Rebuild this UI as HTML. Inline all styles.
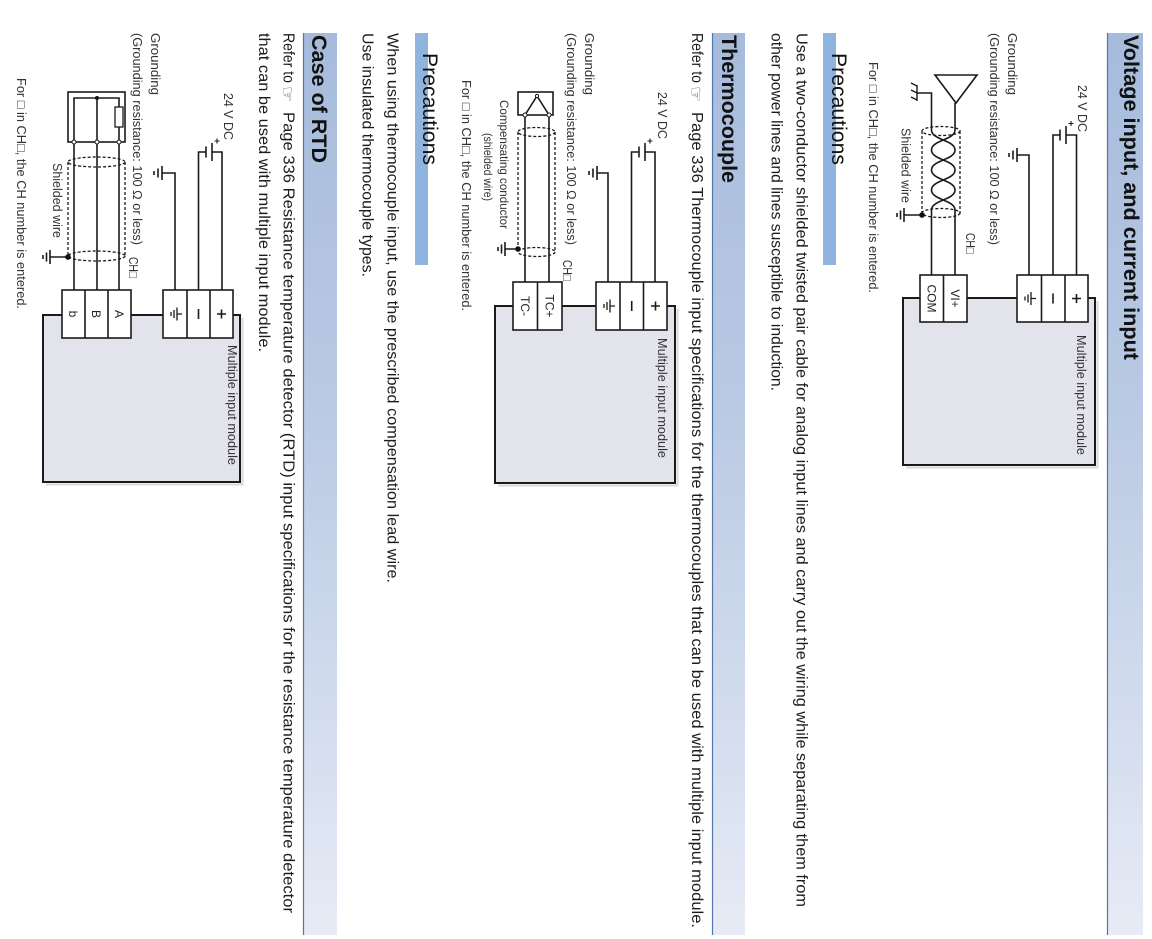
<!DOCTYPE html>
<html><head><meta charset="utf-8">
<style>
html,body{margin:0;padding:0;background:#fff;}
svg{display:block;}
text{font-family:"Liberation Sans","DejaVu Sans",sans-serif;}
.h{font-weight:bold;font-size:21.5px;fill:#111;}
.p{font-size:21px;fill:#111;}
.b{font-size:16px;fill:#1c1c1c;}
.d{font-size:12.5px;fill:#333;}
.t{font-size:12px;fill:#222;}
</style></head><body>
<svg width="1152" height="939" viewBox="0 0 1152 939" xmlns="http://www.w3.org/2000/svg">
<defs>
<linearGradient id="hb" x1="0" y1="0" x2="0" y2="1">
<stop offset="0" stop-color="#a6bbdc"/>
<stop offset="0.4" stop-color="#b9c9e3"/>
<stop offset="0.75" stop-color="#d2dcee"/>
<stop offset="1" stop-color="#e7ebf5"/>
</linearGradient>
</defs>
<rect width="1152" height="939" fill="#fff"/>

<!-- Header bars -->
<rect x="1107" y="33" width="36" height="902" fill="url(#hb)"/>
<line x1="1107.5" y1="33" x2="1107.5" y2="935" stroke="#5275ad" stroke-width="1.2"/>
<rect x="712" y="33" width="33" height="902" fill="url(#hb)"/>
<line x1="712.5" y1="33" x2="712.5" y2="935" stroke="#5275ad" stroke-width="1.2"/>
<rect x="303" y="33" width="34" height="902" fill="url(#hb)"/>
<line x1="303.5" y1="33" x2="303.5" y2="935" stroke="#5275ad" stroke-width="1.2"/>

<text class="h" transform="translate(1124,35) rotate(90)" textLength="325" lengthAdjust="spacingAndGlyphs">Voltage input, and current input</text>
<text class="h" transform="translate(722,35) rotate(90)" textLength="148" lengthAdjust="spacingAndGlyphs">Thermocouple</text>
<text class="h" transform="translate(312,35) rotate(90)" textLength="128" lengthAdjust="spacingAndGlyphs">Case of RTD</text>

<!-- Precautions 1 -->
<rect x="823" y="33" width="13" height="232" fill="#8fb4de"/>
<text class="p" transform="translate(832,53) rotate(90)" textLength="112" lengthAdjust="spacingAndGlyphs">Precautions</text>
<text class="b" transform="translate(796.5,33) rotate(90)" textLength="874" lengthAdjust="spacingAndGlyphs">Use a two-conductor shielded twisted pair cable for analog input lines and carry out the wiring while separating them from</text>
<text class="b" transform="translate(771.5,33) rotate(90)" textLength="358" lengthAdjust="spacingAndGlyphs">other power lines and lines susceptible to induction.</text>

<!-- Thermocouple text -->
<text class="b" transform="translate(692,33) rotate(90)" textLength="50" lengthAdjust="spacingAndGlyphs">Refer to</text>
<text transform="translate(690,86) rotate(90)" style="font-family:'DejaVu Sans',sans-serif;font-size:18px;fill:#666">☞</text>
<text class="b" transform="translate(692,112) rotate(90)" textLength="816" lengthAdjust="spacingAndGlyphs">Page 336 Thermocouple input specifications for the thermocouples that can be used with multiple input module.</text>

<!-- Precautions 2 -->
<rect x="415" y="33" width="13" height="232" fill="#8fb4de"/>
<text class="p" transform="translate(423,53) rotate(90)" textLength="112" lengthAdjust="spacingAndGlyphs">Precautions</text>
<text class="b" transform="translate(387.5,33) rotate(90)" textLength="550" lengthAdjust="spacingAndGlyphs">When using thermocouple input, use the prescribed compensation lead wire.</text>
<text class="b" transform="translate(362.5,33) rotate(90)" textLength="244" lengthAdjust="spacingAndGlyphs">Use insulated thermocouple types.</text>

<!-- RTD text -->
<text class="b" transform="translate(283.5,33) rotate(90)" textLength="50" lengthAdjust="spacingAndGlyphs">Refer to</text>
<text transform="translate(281.5,86) rotate(90)" style="font-family:'DejaVu Sans',sans-serif;font-size:18px;fill:#666">☞</text>
<text class="b" transform="translate(283.5,112) rotate(90)" textLength="801" lengthAdjust="spacingAndGlyphs">Page 336 Resistance temperature detector (RTD) input specifications for the resistance temperature detector</text>
<text class="b" transform="translate(259,33) rotate(90)" textLength="319" lengthAdjust="spacingAndGlyphs">that can be used with multiple input module.</text>

<!-- ================= Diagram 1 ================= -->
<path d="M906 467.5 H1097.5 V301" stroke="#d8d8d8" stroke-width="2" fill="none"/>
<g stroke="#1a1a1a" stroke-width="1.6" fill="none">
<rect x="903" y="298" width="192" height="167" fill="#e3e3ec" stroke-width="2"/>
<rect x="1017" y="275" width="71" height="47" fill="#fff"/>
<line x1="1041.5" y1="275" x2="1041.5" y2="322"/>
<line x1="1065" y1="275" x2="1065" y2="322"/>
<path d="M1072 298.5 H1081 M1076.5 294 V303"/>
<path d="M1053 293.5 V303.5"/>
<path d="M1036 298.5 H1031 M1031 292 V305 M1028 294.5 V302.5 M1025 296.5 V300.5" stroke-width="1.3"/>
<rect x="920" y="275" width="47" height="47" fill="#fff"/>
<line x1="943.5" y1="275" x2="943.5" y2="322"/>
<path d="M1076.5 275 V135 H1066"/>
<path d="M1053 275 V135 H1060"/>
<line x1="1060" y1="129.5" x2="1060" y2="140.5"/>
<line x1="1066" y1="126" x2="1066" y2="144"/>
<path d="M1068.5 123.5 H1073.5 M1071 121 V126" stroke-width="1.1"/>
<path d="M1029 275 V155 H1017"/>
<path d="M1017 148 V162 M1013 150.5 V159.5 M1009 153 V157"/>
<path d="M955 275 V210 M955 130 V103"/>
<path d="M935 75 H977 L956 103 Z"/>
<path d="M931.5 275 V210 M931.5 130 V93 H917"/>
<path d="M917 85 V101 M917 86 L911 83 M917 93 L911 90 M917 100 L911 97" stroke-width="1.4"/>
<path d="M955 130 C955 140 931.5 140 931.5 150 C931.5 160 955 160 955 170 C955 180 931.5 180 931.5 190 C931.5 200 955 200 955 210"/>
<path d="M931.5 130 C931.5 140 955 140 955 150 C955 160 931.5 160 931.5 170 C931.5 180 955 180 955 190 C955 200 931.5 200 931.5 210"/>
<g stroke-dasharray="3 2" stroke-width="1.3">
<line x1="922" y1="131" x2="922" y2="214"/>
<line x1="960" y1="131" x2="960" y2="214"/>
<ellipse cx="941" cy="131" rx="19" ry="4.5"/>
<ellipse cx="941" cy="213" rx="19" ry="4.5"/>
</g>
<path d="M922 215 H904 M904 208 V222 M900.5 210.5 V219.5 M897 213 V217"/>
</g>
<circle cx="922" cy="215" r="2.8" fill="#111"/>
<text class="t" text-anchor="middle" transform="translate(950.8,298.5) rotate(90)">VI+</text>
<text class="t" text-anchor="middle" transform="translate(927.3,298.5) rotate(90)">COM</text>
<text class="d" transform="translate(1077,335) rotate(90)" textLength="120" lengthAdjust="spacingAndGlyphs">Multiple input module</text>
<text class="d" transform="translate(1078,85) rotate(90)" textLength="47" lengthAdjust="spacingAndGlyphs">24 V DC</text>
<text class="d" transform="translate(1008,33) rotate(90)" textLength="62" lengthAdjust="spacingAndGlyphs">Grounding</text>
<text class="d" transform="translate(990,33) rotate(90)" textLength="212" lengthAdjust="spacingAndGlyphs">(Grounding resistance: 100 Ω or less)</text>
<text class="d" transform="translate(966,233) rotate(90)" textLength="21" lengthAdjust="spacingAndGlyphs">CH□</text>
<text class="d" transform="translate(901.5,128) rotate(90)" textLength="75" lengthAdjust="spacingAndGlyphs">Shielded wire</text>
<text class="d" transform="translate(869,62) rotate(90)" textLength="231" lengthAdjust="spacingAndGlyphs">For □ in CH□, the CH number is entered.</text>

<!-- ================= Diagram 2 ================= -->
<path d="M498 485.5 H677.5 V309" stroke="#d8d8d8" stroke-width="2" fill="none"/>
<g stroke="#1a1a1a" stroke-width="1.6" fill="none">
<rect x="495" y="306" width="180" height="177" fill="#e3e3ec" stroke-width="2"/>
<rect x="596" y="282" width="71" height="48" fill="#fff"/>
<line x1="620" y1="282" x2="620" y2="330"/>
<line x1="643.5" y1="282" x2="643.5" y2="330"/>
<path d="M651 306 H660 M655.5 301.5 V310.5"/>
<path d="M631.7 301 V311"/>
<path d="M615 306 H610 M610 299.5 V312.5 M607 302 V310 M604 304 V308" stroke-width="1.3"/>
<rect x="513" y="282" width="49" height="48" fill="#fff"/>
<line x1="537.5" y1="282" x2="537.5" y2="330"/>
<path d="M655 282 V152 H645"/>
<path d="M631.5 282 V152 H639"/>
<line x1="639" y1="146.5" x2="639" y2="157.5"/>
<line x1="645" y1="143" x2="645" y2="161"/>
<path d="M647.5 141 H652.5 M650 138.5 V143.5" stroke-width="1.1"/>
<path d="M608 282 V173 H597"/>
<path d="M597 166 V180 M593 168.5 V177.5 M589 171 V175"/>
<path d="M549 282 V115 M525 282 V115"/>
<rect x="518" y="92" width="35" height="23"/>
<path d="M525 115 L537 96 L549 115"/>
<g stroke-dasharray="3 2" stroke-width="1.3">
<line x1="518" y1="132" x2="518" y2="252"/>
<line x1="555" y1="132" x2="555" y2="252"/>
<ellipse cx="536.5" cy="132" rx="18.5" ry="4.5"/>
<ellipse cx="536.5" cy="252" rx="18.5" ry="4.5"/>
</g>
<path d="M518 249 H505 M505 242 V256 M501.5 244.5 V253.5 M498 247 V251"/>
</g>
<circle cx="525" cy="115" r="2" fill="#fff" stroke="#1a1a1a" stroke-width="1"/>
<circle cx="549" cy="115" r="2" fill="#fff" stroke="#1a1a1a" stroke-width="1"/>
<circle cx="537" cy="96" r="1.6" fill="#fff" stroke="#1a1a1a" stroke-width="1"/>
<circle cx="518" cy="249" r="2.8" fill="#111"/>
<text class="t" text-anchor="middle" transform="translate(545.4,306) rotate(90)">TC+</text>
<text class="t" text-anchor="middle" transform="translate(520.9,306) rotate(90)">TC-</text>
<text class="d" transform="translate(658,338) rotate(90)" textLength="120" lengthAdjust="spacingAndGlyphs">Multiple input module</text>
<text class="d" transform="translate(658,92) rotate(90)" textLength="47" lengthAdjust="spacingAndGlyphs">24 V DC</text>
<text class="d" transform="translate(585,33) rotate(90)" textLength="62" lengthAdjust="spacingAndGlyphs">Grounding</text>
<text class="d" transform="translate(567,33) rotate(90)" textLength="212" lengthAdjust="spacingAndGlyphs">(Grounding resistance: 100 Ω or less)</text>
<text class="d" transform="translate(563,260) rotate(90)" textLength="21" lengthAdjust="spacingAndGlyphs">CH□</text>
<text class="d" style="font-size:12px" transform="translate(500,100) rotate(90)" textLength="129" lengthAdjust="spacingAndGlyphs">Compensating conductor</text>
<text class="d" style="font-size:12px" transform="translate(484,133) rotate(90)" textLength="68" lengthAdjust="spacingAndGlyphs">(shielded wire)</text>
<text class="d" transform="translate(462,80) rotate(90)" textLength="231" lengthAdjust="spacingAndGlyphs">For □ in CH□, the CH number is entered.</text>

<!-- ================= Diagram 3 ================= -->
<path d="M46 484.5 H242.5 V318" stroke="#d8d8d8" stroke-width="2" fill="none"/>
<g stroke="#1a1a1a" stroke-width="1.6" fill="none">
<rect x="43" y="315" width="197" height="167" fill="#e3e3ec" stroke-width="2"/>
<rect x="163" y="290" width="70" height="48" fill="#fff"/>
<line x1="187" y1="290" x2="187" y2="338"/>
<line x1="210" y1="290" x2="210" y2="338"/>
<path d="M217 314 H226 M221.5 309.5 V318.5"/>
<path d="M198.5 309 V319"/>
<path d="M182 314 H177 M177 307.5 V320.5 M174 310 V318 M171 312 V316" stroke-width="1.3"/>
<rect x="62" y="290" width="69" height="48" fill="#fff"/>
<line x1="85" y1="290" x2="85" y2="338"/>
<line x1="108" y1="290" x2="108" y2="338"/>
<path d="M222 290 V152 H212"/>
<path d="M198.5 290 V152 H206"/>
<line x1="206" y1="146.5" x2="206" y2="157.5"/>
<line x1="212" y1="143" x2="212" y2="161"/>
<path d="M214.5 141 H219.5 M217 138.5 V143.5" stroke-width="1.1"/>
<path d="M175 290 V173 H162"/>
<path d="M162 166 V180 M158 168.5 V177.5 M154 171 V175"/>
<path d="M119 290 V142 M97 290 V142 M74 290 V142"/>
<rect x="68" y="92" width="57" height="50"/>
<path d="M74 142 V98 H119 V142 M97 142 V98"/>
<rect x="115" y="107" width="8" height="20" fill="#fff" stroke-width="1.3"/>
<g stroke-dasharray="3 2" stroke-width="1.3">
<line x1="68" y1="162" x2="68" y2="256"/>
<line x1="125" y1="162" x2="125" y2="256"/>
<ellipse cx="96.5" cy="162" rx="28.5" ry="5"/>
<ellipse cx="96.5" cy="256" rx="28.5" ry="5"/>
</g>
<path d="M68 257 H50 M50 250 V264 M46.5 252.5 V261.5 M43 255 V259"/>
</g>
<circle cx="74" cy="142" r="2" fill="#fff" stroke="#1a1a1a" stroke-width="1"/>
<circle cx="97" cy="142" r="2" fill="#fff" stroke="#1a1a1a" stroke-width="1"/>
<circle cx="119" cy="142" r="2" fill="#fff" stroke="#1a1a1a" stroke-width="1"/>
<circle cx="97" cy="98" r="2" fill="#111"/>
<circle cx="68" cy="257" r="2.8" fill="#111"/>
<text class="t" text-anchor="middle" transform="translate(115.2,314) rotate(90)">A</text>
<text class="t" text-anchor="middle" transform="translate(92.2,314) rotate(90)">B</text>
<text class="t" text-anchor="middle" transform="translate(69.2,314) rotate(90)">b</text>
<text class="d" transform="translate(228,345) rotate(90)" textLength="120" lengthAdjust="spacingAndGlyphs">Multiple input module</text>
<text class="d" transform="translate(224,93) rotate(90)" textLength="47" lengthAdjust="spacingAndGlyphs">24 V DC</text>
<text class="d" transform="translate(151,33) rotate(90)" textLength="62" lengthAdjust="spacingAndGlyphs">Grounding</text>
<text class="d" transform="translate(133,33) rotate(90)" textLength="212" lengthAdjust="spacingAndGlyphs">(Grounding resistance: 100 Ω or less)</text>
<text class="d" transform="translate(129,257) rotate(90)" textLength="21" lengthAdjust="spacingAndGlyphs">CH□</text>
<text class="d" transform="translate(53,163) rotate(90)" textLength="75" lengthAdjust="spacingAndGlyphs">Shielded wire</text>
<text class="d" transform="translate(17,78) rotate(90)" textLength="231" lengthAdjust="spacingAndGlyphs">For □ in CH□, the CH number is entered.</text>
</svg>
</body></html>
